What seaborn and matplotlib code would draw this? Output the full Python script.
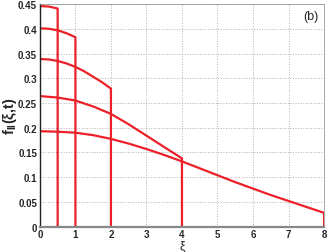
import matplotlib
matplotlib.use('Agg')
from matplotlib import pyplot as plt
import seaborn as sns
import pandas as pd

# values, one curve per domain length L
xi_05 = [0.0, 0.25, 0.5]
f_05 = [0.446, 0.445, 0.441]

xi_1 = [0.0, 0.25, 0.5, 0.75, 1.0]
f_1 = [0.401, 0.400, 0.397, 0.391, 0.383]

xi_2 = [0.0, 0.25, 0.5, 0.75, 1.0, 1.25, 1.5, 1.75, 2.0]
f_2 = [0.339, 0.338, 0.335, 0.330, 0.323, 0.314, 0.303, 0.292, 0.279]

xi_4 = [0.0, 0.5, 1.0, 1.5, 2.0, 2.5, 3.0, 3.5, 4.0]
f_4 = [0.264, 0.261, 0.255, 0.243, 0.228, 0.207, 0.184, 0.161, 0.138]

xi_8 = [0.0, 0.5, 1.0, 1.5, 2.0, 2.5, 3.0, 3.5, 4.0, 4.5, 5.0, 5.5, 6.0, 6.5, 7.0, 7.5, 8.0]
f_8 = [0.193, 0.192, 0.190, 0.185, 0.1775, 0.168, 0.157, 0.145, 0.132, 0.118, 0.104, 0.090, 0.077, 0.064, 0.052, 0.040, 0.028]

curves = {0.5: (xi_05, f_05), 1: (xi_1, f_1), 2: (xi_2, f_2), 4: (xi_4, f_4), 8: (xi_8, f_8)}

rows = []
for L, (xs, fs) in curves.items():
    pts = list(zip(xs, fs)) + [(L, 0.0)]   # vertical drop at the boundary
    for i, (x, f) in enumerate(pts):
        rows.append({'L': L, 'order': i, 'xi': x, 'f': f})
data = pd.DataFrame(rows)

sns.set_style('white')
plt.rcParams['font.family'] = ['Liberation Sans', 'DejaVu Sans']
plt.rcParams['mathtext.fontset'] = 'custom'
plt.rcParams['mathtext.rm'] = 'Liberation Sans'
plt.rcParams['mathtext.it'] = 'Liberation Sans:italic'
plt.rcParams['mathtext.bf'] = 'Liberation Sans:bold'

fig = plt.figure(figsize=(3.27, 2.53), dpi=100)
ax = fig.add_axes([0.122, 0.100, 0.869, 0.880])

red = '#ec2028'
sns.lineplot(data=data, x='xi', y='f', hue='L', units='L', estimator=None, sort=False,
             palette=[red] * len(curves), linewidth=1.6, legend=False, ax=ax)

ax.set_xlim(0, 8)
ax.set_ylim(0, 0.45)
ax.set_xticks(range(0, 9))
ax.set_yticks([0, 0.05, 0.1, 0.15, 0.2, 0.25, 0.3, 0.35, 0.4, 0.45])
ax.set_yticklabels(['0', '0.05', '0.1', '0.15', '0.2', '0.25', '0.3', '0.35', '0.4', '0.45'])
ax.grid(True, linestyle=':', color='#b0b0b0', linewidth=0.7)
ax.tick_params(direction='in', length=3, width=0.6, labelsize=7, pad=2, color='#555555')
for lbl in ax.get_xticklabels() + ax.get_yticklabels():
    lbl.set_fontweight('bold')

for side in ['top', 'right']:
    ax.spines[side].set_color('#999999')
    ax.spines[side].set_linewidth(0.6)
ax.spines['left'].set_color('#222222')
ax.spines['left'].set_linewidth(1.0)
ax.spines['bottom'].set_color('#888888')
ax.spines['bottom'].set_linewidth(1.6)

ax.set_xlabel('ξ', fontsize=9, labelpad=0)
ax.set_ylabel('')
fig.text(0.004, 0.54, r'$\mathbf{f_{II}}$(ξ,t)', fontsize=10.5, fontweight='bold',
         rotation=90, ha='left', va='center')
ax.text(7.85, 0.425, '(b)', fontsize=9, ha='right', va='center')

fig.savefig('out.png', dpi=100)
